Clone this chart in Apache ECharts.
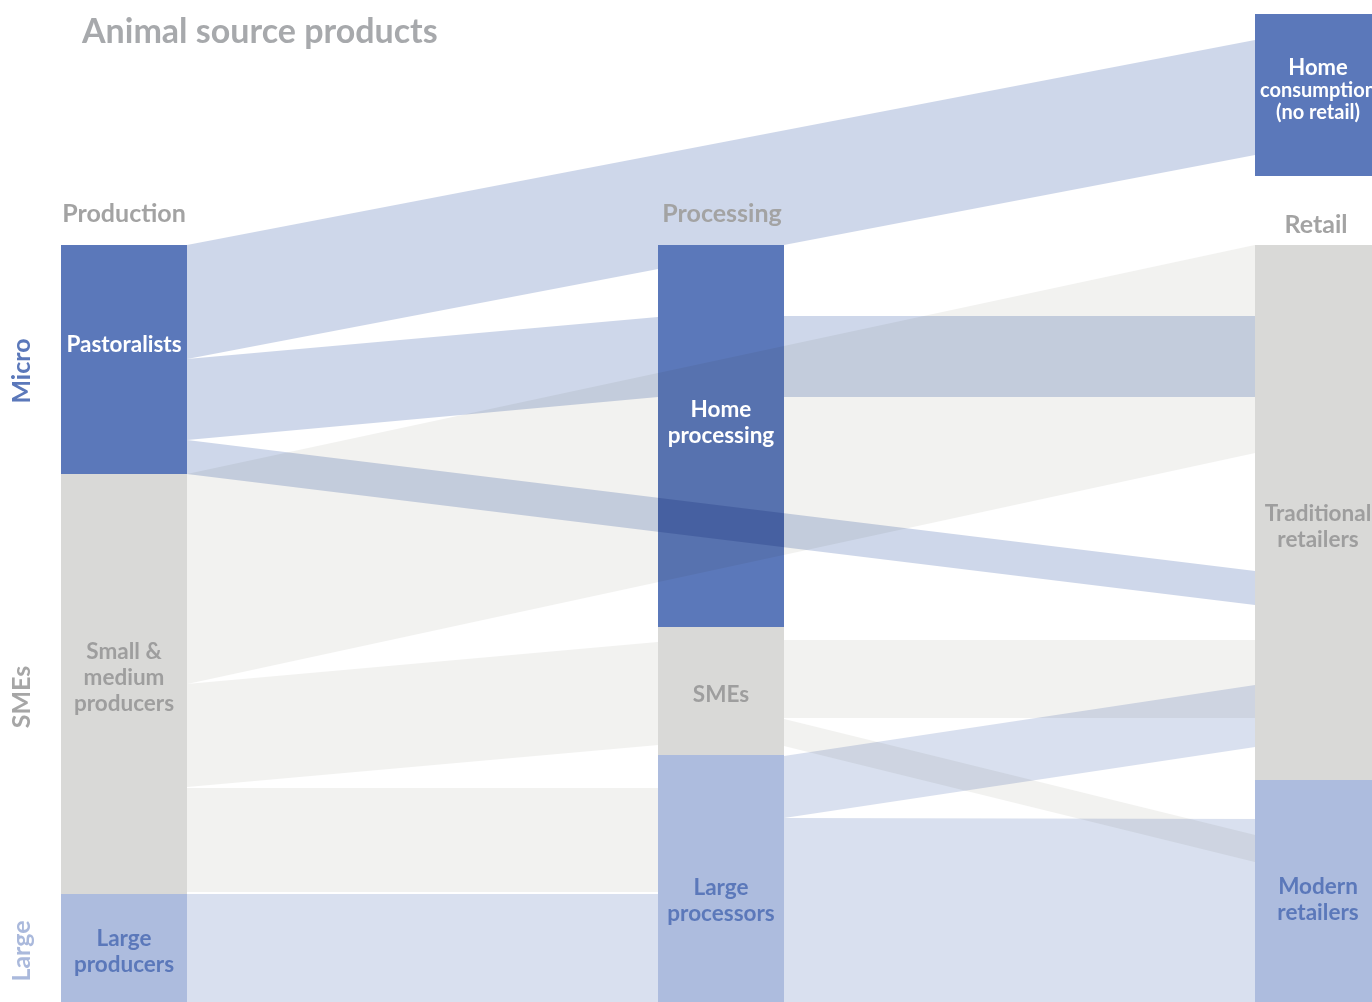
<!DOCTYPE html>
<html><head><meta charset="utf-8">
<script src="https://cdn.jsdelivr.net/npm/echarts@6/dist/echarts.min.js"></script>
<style>html,body{margin:0;padding:0;background:#fff}#c{width:1372px;height:1002px}</style>
</head><body><div id="c"></div>
<script>
// ---------------- DATA (y in flow units, 0 = top) ----------------
const title = 'Animal source products';
const stages = ['Production', 'Processing', 'Retail'];
const scales = ['Micro', 'SMEs', 'Large'];
const scaleMid = [37.1, 69.7, 95.1];

const nodeNames = ['Pastoralists', 'Small &\nmedium\nproducers', 'Large\nproducers',
                   'Home\nprocessing', 'SMEs', 'Large\nprocessors',
                   'Home\nconsumption\n(no retail)', 'Traditional\nretailers', 'Modern\nretailers'];
const nodeStage  = [0, 0, 0, 1, 1, 1, 2, 2, 2];
const nodeScale  = [0, 1, 2, 0, 1, 2, 0, 1, 2];
const nodeTop    = [24.5, 47.4, 89.4, 24.5, 62.7, 75.5, 1.4, 24.5, 78.0];
const nodeBottom = [47.4, 89.4, 100.2, 62.7, 75.5, 100.2, 17.6, 78.0, 100.2];

const linkSource       = [0, 0, 0, 3, 1, 1, 1, 2, 4, 4, 5, 5];
const linkTarget       = [6, 3, 7, 7, 7, 4, 5, 5, 7, 8, 7, 8];
const linkSourceTop    = [24.5, 35.9, 44.0, 31.6, 47.4, 68.4, 78.8, 89.4, 64.0, 71.9, 75.6, 81.8];
const linkSourceBottom = [35.9, 44.0, 47.4, 39.7, 68.4, 78.7, 89.2, 100.2, 71.8, 74.6, 81.8, 100.2];
const linkTargetTop    = [4.0, 31.7, 57.1, 31.6, 24.5, 64.2, 78.8, 89.4, 64.0, 83.5, 68.5, 81.9];
const linkTargetBottom = [15.5, 39.7, 60.5, 39.7, 45.3, 74.5, 89.2, 100.2, 71.8, 86.2, 74.7, 100.2];

// ---------------- STYLE ----------------
const FONT = 'Lato';
const NODE_W = 126;
const nodeColor  = ['#5b78ba', '#d9d9d7', '#adbcde'];
const linkColor  = ['#ced7ea', '#f2f2f0', '#d9e0ef'];
const labelColor = ['#ffffff', '#9e9e9e', '#5b78ba'];
const sideColor  = ['#5b78ba', '#a6a6a6', '#aab9dc'];
const labelDy    = [-15, -6, 4, -13, 4, 22, -5, 14, 9];
const headerY    = [21.4, 21.4, 22.5];
const headerDx   = [0, 1, -2];
const linksUnderNodes = [0];   // link indices painted beneath the node bars

const chart = echarts.init(document.getElementById('c'), null, {renderer: 'canvas'});

const nodeData = nodeNames.map((n, i) => [nodeStage[i], nodeTop[i], nodeBottom[i], nodeScale[i], i]);
const linkData = linkSource.map((s, i) => [nodeStage[s], nodeStage[linkTarget[i]],
  linkSourceTop[i], linkSourceBottom[i], linkTargetTop[i], linkTargetBottom[i], nodeScale[s], i]);

function labelText(i) {
  if (i === 6) return '{a|Home}\n{b|consumption}\n{b|(no retail)}';
  return nodeNames[i];
}

function renderLink(params, api) {
  const s0 = api.coord([api.value(0), api.value(2)]);
  const s1 = api.coord([api.value(0), api.value(3)]);
  const t0 = api.coord([api.value(1), api.value(4)]);
  const t1 = api.coord([api.value(1), api.value(5)]);
  const xs = s0[0] + NODE_W / 2, xt = t0[0] - NODE_W / 2;
  return {type: 'polygon', shape: {points: [[xs, s0[1]], [xt, t0[1]], [xt, t1[1]], [xs, s1[1]]]},
    style: {fill: linkColor[api.value(6)]}};
}

chart.setOption({
  backgroundColor: '#ffffff',
  animation: false,
  title: {
    text: title, left: 82, top: 15, padding: 0,
    textStyle: {fontFamily: FONT, fontSize: 34, fontWeight: 'bold', color: '#a7a9ac'}
  },
  grid: {left: 124, right: 54, top: 0, bottom: 0},
  xAxis: {type: 'value', min: 0, max: 2, show: false},
  yAxis: {type: 'value', min: 0, max: 100.2, inverse: true, show: false},
  series: [
    { // links painted beneath the bars
      type: 'custom', z: 0, silent: true, blendMode: 'multiply',
      data: linkData.filter(d => linksUnderNodes.includes(d[7])), renderItem: renderLink
    },
    { // nodes
      type: 'custom', z: 1, silent: true, data: nodeData,
      renderItem(params, api) {
        const a = api.coord([api.value(0), api.value(1)]);
        const b = api.coord([api.value(0), api.value(2)]);
        return {type: 'rect', shape: {x: a[0] - NODE_W / 2, y: a[1], width: NODE_W, height: b[1] - a[1]},
          style: {fill: nodeColor[api.value(3)]}};
      }
    },
    { // links painted over the bars
      type: 'custom', z: 2, silent: true, blendMode: 'multiply',
      data: linkData.filter(d => !linksUnderNodes.includes(d[7])), renderItem: renderLink
    },
    { // node labels
      type: 'custom', z: 3, silent: true, data: nodeData,
      renderItem(params, api) {
        const i = api.value(4);
        const a = api.coord([api.value(0), (api.value(1) + api.value(2)) / 2]);
        return {type: 'text', x: a[0], y: a[1] + labelDy[i],
          style: {text: labelText(i), fontFamily: FONT, fontSize: 22.5, fontWeight: 'bold',
            lineHeight: 26, fill: labelColor[api.value(3)], align: 'center', verticalAlign: 'middle',
            rich: {a: {fontFamily: FONT, fontSize: 22, fontWeight: 'bold', lineHeight: 23, fill: '#fff'},
                   b: {fontFamily: FONT, fontSize: 20, fontWeight: 'bold', lineHeight: 22, fill: '#fff'}}}};
      }
    },
    { // stage headers
      type: 'custom', z: 3, silent: true, data: stages.map((s, i) => [i, headerY[i]]),
      renderItem(params, api) {
        const a = api.coord([api.value(0), api.value(1)]);
        return {type: 'text', x: a[0] + headerDx[params.dataIndex], y: a[1],
          style: {text: stages[params.dataIndex], fontFamily: FONT, fontSize: 25, fontWeight: 'bold',
            fill: '#a3a3a3', align: 'center', verticalAlign: 'middle'}};
      }
    },
    { // scale labels on the left
      type: 'custom', z: 3, silent: true, data: scales.map((s, i) => [0, scaleMid[i]]),
      renderItem(params, api) {
        const a = api.coord([api.value(0), api.value(1)]);
        return {type: 'text', x: a[0] - 102, y: a[1], rotation: Math.PI / 2,
          style: {text: scales[params.dataIndex], fontFamily: FONT, fontSize: 25, fontWeight: 'bold',
            fill: sideColor[params.dataIndex], align: 'center', verticalAlign: 'middle'}};
      }
    }
  ]
});
</script></body></html>
